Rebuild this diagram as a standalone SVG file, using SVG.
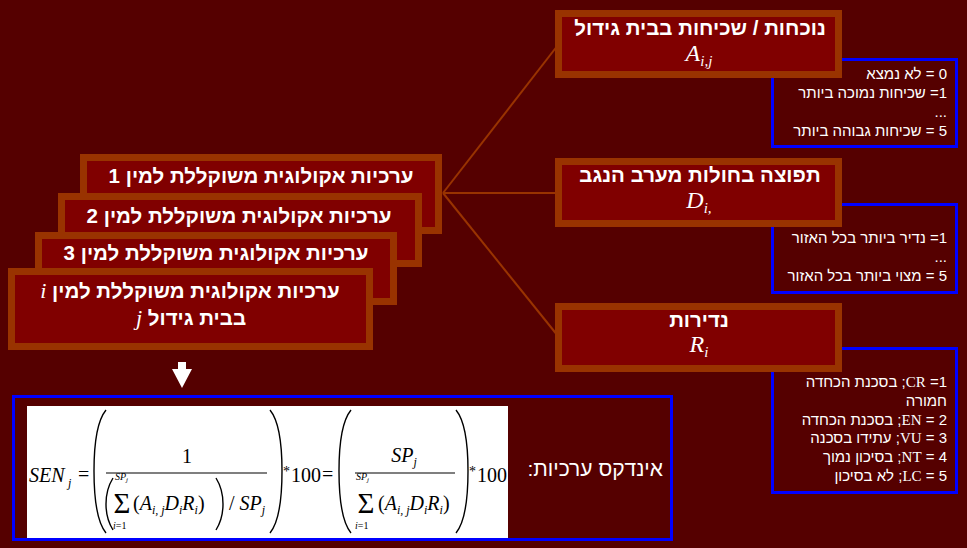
<svg xmlns="http://www.w3.org/2000/svg" width="967" height="548" viewBox="0 0 967 548">
  <style>
    .bg { fill: #550000; }
    .card { fill: #800000; stroke: #993300; stroke-width: 7; }
    .legend { fill: none; stroke: #0000ff; stroke-width: 3; }
    .link { stroke: #993300; stroke-width: 2; fill: none; }
    .he { font-family: "Liberation Sans", "DejaVu Sans", sans-serif; fill: #ffffff; direction: rtl; }
    .title { font-size: 20.5px; font-weight: bold; }
    .stack { font-size: 20.5px; font-weight: bold; }
    .item { font-size: 15px; }
    .math { font-family: "Liberation Serif", "DejaVu Serif", serif; font-style: italic; fill: #ffffff; }
    .fx { font-family: "Liberation Serif", "DejaVu Serif", serif; fill: #000000; }
    .it { font-style: italic; }
    .paren { fill: none; stroke: #000000; stroke-width: 1.4; }
    .bar { stroke: #000000; stroke-width: 1.2; }
  </style>

  <rect class="bg" x="0" y="0" width="967" height="548"/>

  <!-- connectors from the first species card to the three factor cards -->
  <g id="connectors">
    <line class="link" x1="443" y1="193" x2="558" y2="45"/>
    <line class="link" x1="443" y1="193" x2="558" y2="193"/>
    <line class="link" x1="443" y1="193" x2="558" y2="336"/>
  </g>

  <!-- scale legends (drawn behind the factor cards) -->
  <g id="legend-presence">
    <rect class="legend" x="772.5" y="59.5" width="184" height="87"/>
    <text class="he item" x="947" y="79">0 = לא נמצא</text>
    <text class="he item" x="947" y="98">1= שכיחות נמוכה ביותר</text>
    <text class="he item" x="947" y="117">...</text>
    <text class="he item" x="947" y="136">5 = שכיחות גבוהה ביותר</text>
  </g>
  <g id="legend-distribution">
    <rect class="legend" x="772.5" y="204.5" width="184" height="88"/>
    <text class="he item" x="947" y="243">1= נדיר ביותר בכל האזור</text>
    <text class="he item" x="947" y="262">...</text>
    <text class="he item" x="947" y="281">5 = מצוי ביותר בכל האזור</text>
  </g>
  <g id="legend-rarity">
    <rect class="legend" x="772.5" y="348.5" width="184" height="144"/>
    <text class="he item" x="947" y="387">1= <tspan font-family="Liberation Serif, serif">CR</tspan>; בסכנת הכחדה</text>
    <text class="he item" x="947" y="406">חמורה</text>
    <text class="he item" x="947" y="425">2 = <tspan font-family="Liberation Serif, serif">EN</tspan>; בסכנת הכחדה</text>
    <text class="he item" x="947" y="443">3 = <tspan font-family="Liberation Serif, serif">VU</tspan>; עתידו בסכנה</text>
    <text class="he item" x="947" y="462">4 = <tspan font-family="Liberation Serif, serif">NT</tspan>; בסיכון נמוך</text>
    <text class="he item" x="947" y="481">5 = <tspan font-family="Liberation Serif, serif">LC</tspan>; לא בסיכון</text>
  </g>

  <!-- factor cards -->
  <g id="card-presence">
    <rect class="card" x="558.5" y="13.5" width="280" height="61"/>
    <text class="he title" x="700" y="35" text-anchor="middle">נוכחות / שכיחות בבית גידול</text>
    <text class="math" x="699" y="61" text-anchor="middle" font-size="24">A<tspan font-size="15" dy="5">i,j</tspan></text>
  </g>
  <g id="card-distribution">
    <rect class="card" x="558.5" y="161.5" width="280" height="62"/>
    <text class="he title" x="700" y="182" text-anchor="middle">תפוצה בחולות מערב הנגב</text>
    <text class="math" x="699" y="208" text-anchor="middle" font-size="24">D<tspan font-size="15" dy="5">i,</tspan></text>
  </g>
  <g id="card-rarity">
    <rect class="card" x="558.5" y="306.5" width="280" height="62"/>
    <text class="he title" x="699" y="327" text-anchor="middle">נדירות</text>
    <text class="math" x="699" y="352" text-anchor="middle" font-size="24">R<tspan font-size="15" dy="5">i</tspan></text>
  </g>

  <!-- stacked species cards, back to front -->
  <g id="species-1">
    <rect class="card" x="83.5" y="157.5" width="355" height="73"/>
    <text class="he stack" x="261" y="183" text-anchor="middle">ערכיות אקולוגית משוקללת למין 1</text>
  </g>
  <g id="species-2">
    <rect class="card" x="61.5" y="196.5" width="357" height="67"/>
    <text class="he stack" x="239" y="223" text-anchor="middle">ערכיות אקולוגית משוקללת למין 2</text>
  </g>
  <g id="species-3">
    <rect class="card" x="38.5" y="235.5" width="355" height="66"/>
    <text class="he stack" x="216" y="260" text-anchor="middle">ערכיות אקולוגית משוקללת למין 3</text>
  </g>
  <g id="species-i">
    <rect class="card" x="11.5" y="271.5" width="358" height="75"/>
    <text class="he stack" x="190" y="298" text-anchor="middle">ערכיות אקולוגית משוקללת למין <tspan font-family="Liberation Serif, serif" font-style="italic" font-weight="normal" font-size="22">i</tspan></text>
    <text class="he stack" x="191" y="325" text-anchor="middle">בבית גידול <tspan font-family="Liberation Serif, serif" font-style="italic" font-weight="normal" font-size="22">j</tspan></text>
  </g>

  <!-- downward arrow to the index -->
  <g id="arrow-down">
    <polygon points="178,362 186,362 186,369 192,369 182,388 172,369 178,369" fill="#ffffff"/>
  </g>

  <!-- sensitivity index formula -->
  <g id="index">
    <rect class="legend" x="13.5" y="396.5" width="658" height="143"/>
    <rect x="27" y="406" width="481" height="132" fill="#ffffff"/>
    <text class="he" x="663" y="476" font-size="21">אינדקס ערכיות:</text>

    <!-- SEN_j = -->
    <text class="fx it" x="29" y="482" font-size="20">SEN</text>
    <text class="fx it" x="68" y="487" font-size="12">j</text>
    <text class="fx" x="78" y="481" font-size="20">=</text>

    <!-- first bracket: 1 / ((sum)/SP_j) -->
    <path class="paren" d="M106,410 C97,421 94,442 94,471 C94,500 97,522 106,533"/>
    <text class="fx" x="187" y="463" font-size="20" text-anchor="middle">1</text>
    <line class="bar" x1="106" y1="473" x2="267" y2="473"/>
    <path class="paren" d="M113,478 C108,486 106,495 106,504 C106,513 108,522 113,530"/>
    <text class="fx it" x="115" y="480" font-size="10">SP<tspan font-size="7" dy="2">j</tspan></text>
    <text class="fx" x="122" y="513" font-size="29" text-anchor="middle">Σ</text>
    <text class="fx" x="113" y="529" font-size="10"><tspan class="it">i</tspan>=1</text>
    <text class="fx" x="133" y="510" font-size="20">(<tspan class="it">A</tspan><tspan class="it" font-size="12" dy="4">i, j</tspan><tspan class="it" dy="-4">D</tspan><tspan class="it" font-size="12" dy="4">i</tspan><tspan class="it" dy="-4">R</tspan><tspan class="it" font-size="12" dy="4">i</tspan><tspan dy="-4">)</tspan></text>
    <path class="paren" d="M216,478 C221,486 223,495 223,504 C223,513 221,522 216,530"/>
    <text class="fx" x="229" y="510" font-size="20">/ <tspan class="it">SP</tspan><tspan class="it" font-size="12" dy="4">j</tspan></text>
    <path class="paren" d="M270,410 C279,421 282,442 282,471 C282,500 279,522 270,533"/>

    <!-- *100 = -->
    <text class="fx" x="283" y="476" font-size="14">*</text>
    <text class="fx" x="291" y="482" font-size="20">100</text>
    <text class="fx" x="322" y="481" font-size="20">=</text>

    <!-- second bracket: SP_j / sum -->
    <path class="paren" d="M351,410 C342,421 339,442 339,471 C339,500 342,522 351,533"/>
    <text class="fx it" x="404" y="462" font-size="20" text-anchor="middle">SP<tspan font-size="12" dy="4">j</tspan></text>
    <line class="bar" x1="355" y1="473" x2="455" y2="473"/>
    <text class="fx it" x="356" y="480" font-size="10">SP<tspan font-size="7" dy="2">j</tspan></text>
    <text class="fx" x="366" y="513" font-size="29" text-anchor="middle">Σ</text>
    <text class="fx" x="355" y="529" font-size="10"><tspan class="it">i</tspan>=1</text>
    <text class="fx" x="378" y="510" font-size="20">(<tspan class="it">A</tspan><tspan class="it" font-size="12" dy="4">i, j</tspan><tspan class="it" dy="-4">D</tspan><tspan class="it" font-size="12" dy="4">i</tspan><tspan class="it" dy="-4">R</tspan><tspan class="it" font-size="12" dy="4">i</tspan><tspan dy="-4">)</tspan></text>
    <path class="paren" d="M456,410 C465,421 468,442 468,471 C468,500 465,522 456,533"/>
    <text class="fx" x="469" y="476" font-size="14">*</text>
    <text class="fx" x="477" y="482" font-size="20">100</text>
  </g>
</svg>
